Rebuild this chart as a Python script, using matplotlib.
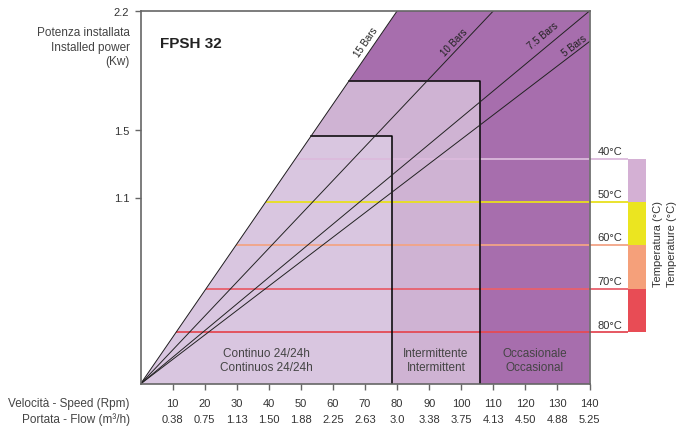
import numpy as np
import matplotlib
matplotlib.use("Agg")
import matplotlib.pyplot as plt
from matplotlib.patches import Polygon, Rectangle

plt.rcParams['font.family'] = ['Liberation Sans', 'DejaVu Sans']

# --- data ---
speed_ticks = [10, 20, 30, 40, 50, 60, 70, 80, 90, 100, 110, 120, 130, 140]
flow_labels = ["0.38", "0.75", "1.13", "1.50", "1.88", "2.25", "2.63", "3.0",
               "3.38", "3.75", "4.13", "4.50", "4.88", "5.25"]
power_ticks = [1.1, 1.5, 2.2]

# pressure lines: end point (speed, power), all from origin
bar_names = ["15 Bars", "10 Bars", "7.5 Bars", "5 Bars"]
bar_end_x = [80, 110, 140, 140]
bar_end_y = [2.2, 2.2, 2.2, 2.02]

# duty zones: max speed / max power
zone_names = ["Continuo 24/24h\nContinuos 24/24h", "Intermittente\nIntermittent",
              "Occasionale\nOccasional"]
zone_speed = [78.3, 106.0, 140.0]
zone_power = [1.46, 1.79, 2.2]
zone_colors = ["#d9c6e0", "#cfb3d3", "#a76ead"]

# temperature limits
temp_labels = ["40°C", "50°C", "60°C", "70°C", "80°C"]
temp_power = [1.33, 1.075, 0.82, 0.562, 0.306]
temp_line_colors = ["#dcbadc", "#e8e01e", "#f2a486", "#e8606c", "#e44a55"]
temp_bar_colors = ["#d4b0d4", "#ebe520", "#f5a07a", "#e84c55"]

slope15 = bar_end_y[0] / bar_end_x[0]

fig = plt.figure(figsize=(6.79, 4.35), dpi=100)
ax = fig.add_axes([140.5 / 679, (435 - 385) / 435, 449 / 679, 373 / 435])
ax.set_xlim(0, 140)
ax.set_ylim(0, 2.2)

# zones, largest first
for sx, py, col in reversed(list(zip(zone_speed, zone_power, zone_colors))):
    xtop = min(py / slope15, sx)
    ax.add_patch(Polygon([(0, 0), (xtop, py), (sx, py), (sx, 0)], closed=True,
                         facecolor=col, edgecolor="none", zorder=1))
for sx, py in zip(zone_speed[:2], zone_power[:2]):
    ax.plot([py / slope15, sx, sx], [py, py, 0], color="black", lw=1.1, zorder=4)

# temperature lines
for tp, col, lab in zip(temp_power, temp_line_colors, temp_labels):
    ax.plot([tp / slope15, 151.9], [tp, tp], color=col, lw=1.3, zorder=3,
            clip_on=False, solid_capstyle="butt")
    ax.text(142.5, tp + 0.015, lab, fontsize=8, color="#333333", ha="left",
            va="bottom", clip_on=False)
for i, col in enumerate(temp_bar_colors):
    ax.add_patch(Rectangle((151.9, temp_power[i + 1]), 5.6,
                           temp_power[i] - temp_power[i + 1], facecolor=col,
                           edgecolor="none", clip_on=False, zorder=3))
ax.text(161.3, 0.83, "Temperatura (°C)", rotation=90, fontsize=8, color="#333333",
        ha="center", va="center", clip_on=False)
ax.text(165.6, 0.83, "Temperature (°C)", rotation=90, fontsize=8, color="#333333",
        ha="center", va="center", clip_on=False)

# pressure lines
label_pos = [(70.3, 2.02), (97.8, 2.02), (125.5, 2.06), (135.3, 2.0)]
for name, ex, ey, (lx, ly) in zip(bar_names, bar_end_x, bar_end_y, label_pos):
    ax.plot([0, ex], [0, ey], color="#222222", lw=0.7, zorder=5)
    ang = ax.transData.transform_angles(np.array([np.degrees(np.arctan2(ey, ex))]),
                                        np.array([[lx, ly]]))[0]
    ax.text(lx, ly, name, rotation=ang, rotation_mode="anchor", fontsize=7,
            color="#222222", ha="center", va="center", zorder=6)

# zone labels
zone_left = [0] + zone_speed[:-1]
for name, x0, x1 in zip(zone_names, zone_left, zone_speed):
    ax.text((x0 + x1) / 2, 0.143, name, ha="center", va="center", fontsize=8.5,
            color="#444444", linespacing=1.25, zorder=6)

ax.text(6, 1.99, "FPSH 32", fontsize=11, fontweight="bold", color="#222222")

# axes styling
for s in ax.spines.values():
    s.set_color("#666666")
    s.set_linewidth(1.2)
    s.set_zorder(7)
ax.set_xticks(speed_ticks)
ax.set_xticklabels([str(v) for v in speed_ticks])
ax.set_yticks(power_ticks)
ax.set_yticklabels([str(v) for v in power_ticks])
ax.tick_params(axis="both", direction="out", length=4, width=1, color="#666666",
               labelsize=8, labelcolor="#333333")
ax.tick_params(axis="x", pad=6)
ax.tick_params(axis="y", pad=4)
for xv, fl in zip(speed_ticks, flow_labels):
    ax.text(xv, -0.206, fl, ha="center", va="center", fontsize=8, color="#333333",
            clip_on=False)

ax.text(-3.3, -0.11, "Velocità - Speed (Rpm)", ha="right", va="center", fontsize=8.5,
        color="#444444", clip_on=False)
ax.text(-3.3, -0.206, "Portata - Flow (m³/h)", ha="right", va="center", fontsize=8.5,
        color="#444444", clip_on=False)
ax.text(-3.3, 1.99, "Potenza installata\nInstalled power\n(Kw)", ha="right",
        va="center", fontsize=8.5, color="#444444", linespacing=1.25, clip_on=False)

fig.savefig("out.png", dpi=100)
